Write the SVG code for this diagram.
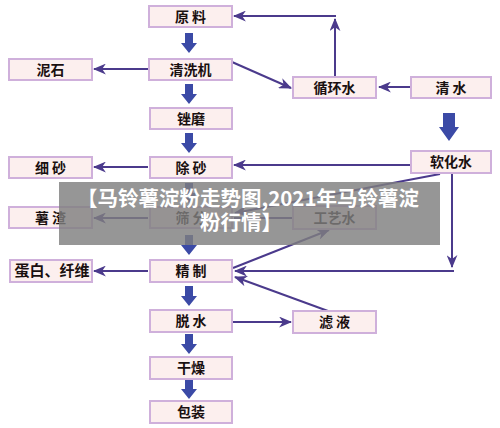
<svg xmlns="http://www.w3.org/2000/svg" width="500" height="428" viewBox="0 0 500 428">
<defs>
<style>
.box rect{fill:#fcefee;stroke:#cfb0db;stroke-width:2}
.box text{font-family:"Noto Sans CJK SC","Liberation Serif",serif;font-weight:bold;font-size:14px;fill:#1a1010;text-anchor:middle}
.ln{stroke:#4b3a8c;stroke-width:2;fill:none}
.ar{marker-end:url(#ah)}
.big{fill:#3b4aa6}
.ov text{font-family:"Noto Sans CJK SC","Noto Sans",sans-serif;font-weight:bold;font-size:20.5px;fill:#ffffff;text-anchor:middle}
</style>
<marker id="ah" viewBox="0 0 12 10" refX="11" refY="5" markerWidth="6.5" markerHeight="5.5" orient="auto" markerUnits="strokeWidth">
<path d="M0,0 L12,5 L0,10 L3.5,5 z" fill="#4b3a8c"/>
</marker>
<path id="dn" d="M-4,0 H4 V10 H8 L0,20 L-8,10 H-4 z"/>
</defs>
<rect width="500" height="428" fill="#ffffff"/>

<g id="connectors">
<g class="big">
<use href="#dn" x="189" y="33"/>
<use href="#dn" x="189" y="84"/>
<use href="#dn" x="189" y="133"/>
<use href="#dn" x="189" y="183"/>
<use href="#dn" x="189" y="235"/>
<use href="#dn" x="189" y="286"/>
<use href="#dn" x="189" y="334"/>
<use href="#dn" x="189" y="379"/>
<path d="M443,113 H455 V127 H459 L449,141 L439,127 H443 z"/>
</g>
<line class="ln ar" x1="148" y1="69" x2="94" y2="69"/>
<line class="ln ar" x1="148" y1="167" x2="94" y2="167"/>
<line class="ln ar" x1="148" y1="218" x2="94" y2="218"/>
<line class="ln ar" x1="148" y1="271" x2="94" y2="271"/>
<line class="ln ar" x1="335" y1="76" x2="335" y2="19"/>
<line class="ln ar" x1="336" y1="16" x2="234" y2="16"/>
<line class="ln ar" x1="232" y1="62" x2="291" y2="88"/>
<line class="ln ar" x1="410" y1="87" x2="379" y2="87"/>
<line class="ln ar" x1="410" y1="165" x2="234" y2="165"/>
<line class="ln ar" x1="440" y1="174" x2="235" y2="213"/>
<line class="ln" x1="292" y1="218" x2="234" y2="218"/>
<line class="ln ar" x1="452" y1="174" x2="452" y2="267"/>
<line class="ln ar" x1="454" y1="271" x2="235" y2="271"/>
<line class="ln ar" x1="233" y1="268" x2="329" y2="230"/>
<line class="ln ar" x1="328" y1="311" x2="235" y2="277"/>
<line class="ln ar" x1="233" y1="322" x2="291" y2="322"/>
</g>

<g id="n-yuanliao" class="box"><rect x="149" y="6" width="83" height="21"/><text x="190.5" y="21.5">原 料</text></g>
<g id="n-qingxiji" class="box"><rect x="149" y="59" width="83" height="21"/><text x="190.5" y="74.5">清洗机</text></g>
<g id="n-cuomo" class="box"><rect x="150" y="108" width="82" height="21"/><text x="191" y="123.5">锉磨</text></g>
<g id="n-chusha" class="box"><rect x="150" y="157" width="82" height="21"/><text x="191" y="172.5">除 砂</text></g>
<g id="n-shaifen" class="box"><rect x="150" y="207" width="82" height="21"/><text x="191" y="222.5">筛 分</text></g>
<g id="n-jingzhi" class="box"><rect x="150" y="260" width="82" height="22"/><text x="191" y="276">精 制</text></g>
<g id="n-tuoshui" class="box"><rect x="150" y="310" width="82" height="22"/><text x="191" y="326">脱 水</text></g>
<g id="n-ganzao" class="box"><rect x="150" y="357" width="82" height="22"/><text x="191" y="373">干燥</text></g>
<g id="n-baozhuang" class="box"><rect x="150" y="401" width="82" height="22"/><text x="191" y="417">包装</text></g>

<g id="n-nishi" class="box"><rect x="9" y="59" width="83" height="21"/><text x="50.5" y="74.5">泥石</text></g>
<g id="n-xisha" class="box"><rect x="9" y="157" width="83" height="21"/><text x="50.5" y="172.5">细 砂</text></g>
<g id="n-shuzha" class="box"><rect x="9" y="207" width="83" height="21"/><text x="50.5" y="222.5">薯 渣</text></g>
<g id="n-danbai" class="box"><rect x="10" y="260" width="82" height="22"/><text x="52" y="276" style="font-size:15px">蛋白、纤维</text></g>

<g id="n-xunhuanshui" class="box"><rect x="293" y="77" width="83" height="21"/><text x="334.5" y="92.5">循环水</text></g>
<g id="n-qingshui" class="box"><rect x="411" y="77" width="80" height="21"/><text x="451" y="92.5">清 水</text></g>
<g id="n-ruanhuashui" class="box"><rect x="411" y="151" width="80" height="22"/><text x="451" y="167">软化水</text></g>
<g id="n-gongyishui" class="box"><rect x="293" y="206" width="83" height="23"/><text x="334.5" y="222.5">工艺水</text></g>
<g id="n-lvye" class="box"><rect x="293" y="311" width="83" height="22"/><text x="334.5" y="327">滤 液</text></g>

<g id="overlay" class="ov">
<rect x="59" y="182" width="381" height="63" fill="#7f7f7f" fill-opacity="0.82"/>
<text x="248" y="206">【马铃薯淀粉走势图,2021年马铃薯淀</text>
<text x="241" y="230">粉行情】</text>
</g>
</svg>
